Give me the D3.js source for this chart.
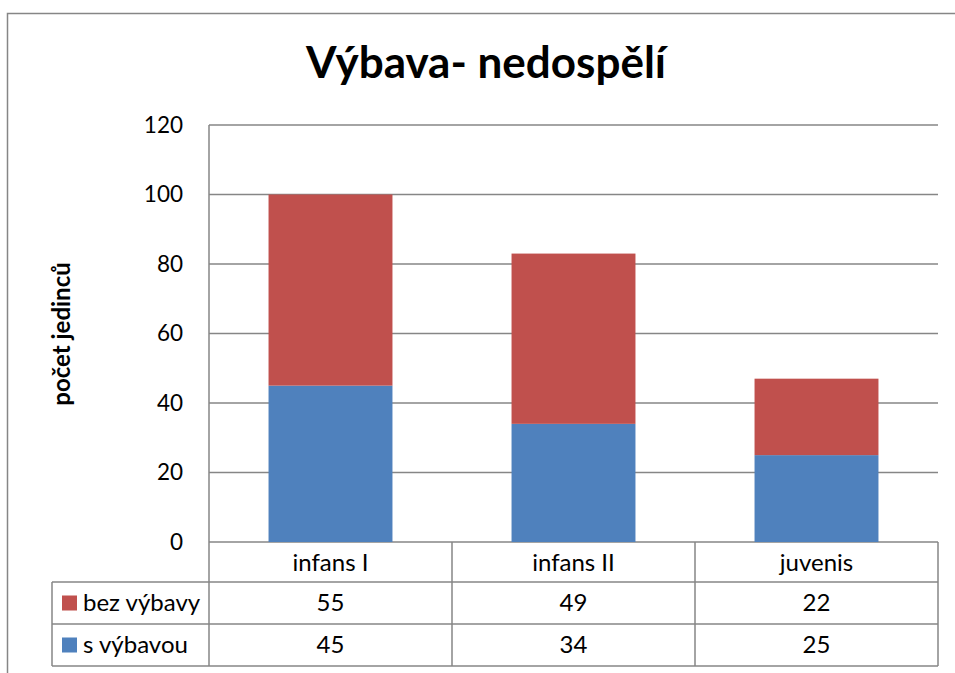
<!DOCTYPE html>
<meta charset="utf-8">
<script src="https://d3js.org/d3.v7.min.js"></script>
<style>
  body { margin: 0; background: #fff; }
  text { font-family: Lato, "Open Sans", sans-serif; fill: #000; }
</style>
<svg width="955" height="673"></svg>
<script>

// data
const categories = ["infans I", "infans II", "juvenis"];
const seriesNames = ["s výbavou", "bez výbavy"];
const sVybavou = [45, 34, 25];
const bezVybavy = [55, 49, 22];
const yTicks = [0, 20, 40, 60, 80, 100, 120];
const colors = {"s výbavou": "#4F81BD", "bez výbavy": "#C0504D"};

const svg = d3.select("svg");
const grey = "#868686";

// plot area
const plotLeft = 209, plotRight = 938, plotTop = 125, plotBottom = 542;

// outer chart border (only left and top visible)
svg.append("rect")
  .attr("x", 7.5).attr("y", 13.5)
  .attr("width", 1100).attr("height", 1000)
  .attr("fill", "none").attr("stroke", grey).attr("stroke-width", 1.5);

svg.append("text")
  .attr("x", 486).attr("y", 78)
  .attr("text-anchor", "middle")
  .style("font-size", "44px").style("font-weight", "bold")
  .text("Výbava- nedospělí");

var x = d3.scaleBand().domain(categories).range([plotLeft, plotRight]);
var y = d3.scaleLinear().domain([0, 120]).range([plotBottom, plotTop]);

// gridlines
svg.append("g").selectAll("line")
  .data(yTicks)
  .enter().append("line")
    .attr("x1", plotLeft).attr("x2", plotRight)
    .attr("y1", d => y(d)).attr("y2", d => y(d))
    .attr("stroke", grey).attr("stroke-width", 1.5);

// y axis labels (axis line drawn separately)
var yAxis = svg.append("g")
  .attr("transform", "translate(" + plotLeft + ",0)")
  .call(d3.axisLeft(y).tickValues(yTicks).tickSize(0).tickPadding(26));
yAxis.select(".domain").remove();
yAxis.selectAll("text")
  .style("font-family", "Lato, sans-serif")
  .style("font-size", "22.5px")
  .attr("fill", "#000");

svg.append("text")
  .attr("transform", "translate(70," + 334 + ") rotate(-90)")
  .attr("text-anchor", "middle")
  .style("font-size", "24px").style("font-weight", "bold")
  .text("počet jedinců");

// stacked bars
var rows = categories.map((c, i) => ({cat: c, "s výbavou": sVybavou[i], "bez výbavy": bezVybavy[i]}));
var stack = d3.stack().keys(seriesNames)(rows);
var barW = x.bandwidth() * 0.51;

svg.append("g").selectAll("g")
  .data(stack)
  .enter().append("g")
    .attr("fill", d => colors[d.key])
  .selectAll("rect")
  .data(d => d)
  .enter().append("rect")
    .attr("x", d => x(d.data.cat) + (x.bandwidth() - barW) / 2)
    .attr("width", barW)
    .attr("y", d => y(d[1]))
    .attr("height", d => y(d[0]) - y(d[1]));

// data table
const rowH = [40, 42, 42];
const tableLeft = 52;
var r1 = plotBottom + rowH[0], r2 = r1 + rowH[1], r3 = r2 + rowH[2];

var tbl = svg.append("g").attr("stroke", grey).attr("stroke-width", 1.5);
tbl.append("line").attr("x1", plotLeft).attr("x2", plotLeft).attr("y1", plotTop).attr("y2", r3);
categories.forEach(function (c) {
  tbl.append("line").attr("x1", x(c) + x.bandwidth()).attr("x2", x(c) + x.bandwidth())
    .attr("y1", plotBottom).attr("y2", r3);
});
tbl.append("line").attr("x1", tableLeft).attr("x2", tableLeft).attr("y1", r1).attr("y2", r3);
[r1, r2, r3].forEach(function (hy) {
  tbl.append("line").attr("x1", tableLeft).attr("x2", plotRight).attr("y1", hy).attr("y2", hy);
});

// category labels
svg.append("g").selectAll("text")
  .data(categories)
  .enter().append("text")
    .attr("x", d => x(d) + x.bandwidth() / 2)
    .attr("y", plotBottom + 29)
    .attr("text-anchor", "middle")
    .style("font-size", "24px")
    .text(d => d);

// value rows: bez výbavy on top, s výbavou below
var tableRows = [
  {name: "bez výbavy", values: bezVybavy, y0: r1},
  {name: "s výbavou", values: sVybavou, y0: r2}
];
tableRows.forEach(function (row) {
  var mid = row.y0 + 21;
  svg.append("rect")
    .attr("x", 62).attr("y", mid - 7.5)
    .attr("width", 15).attr("height", 15)
    .attr("fill", colors[row.name]);
  svg.append("text")
    .attr("x", 83).attr("y", mid + 8)
    .style("font-size", "24px")
    .text(row.name);
  svg.append("g").selectAll("text")
    .data(row.values)
    .enter().append("text")
      .attr("x", (d, i) => x(categories[i]) + x.bandwidth() / 2)
      .attr("y", mid + 8)
      .attr("text-anchor", "middle")
      .style("font-size", "24px")
      .text(d => d);
});

</script>
